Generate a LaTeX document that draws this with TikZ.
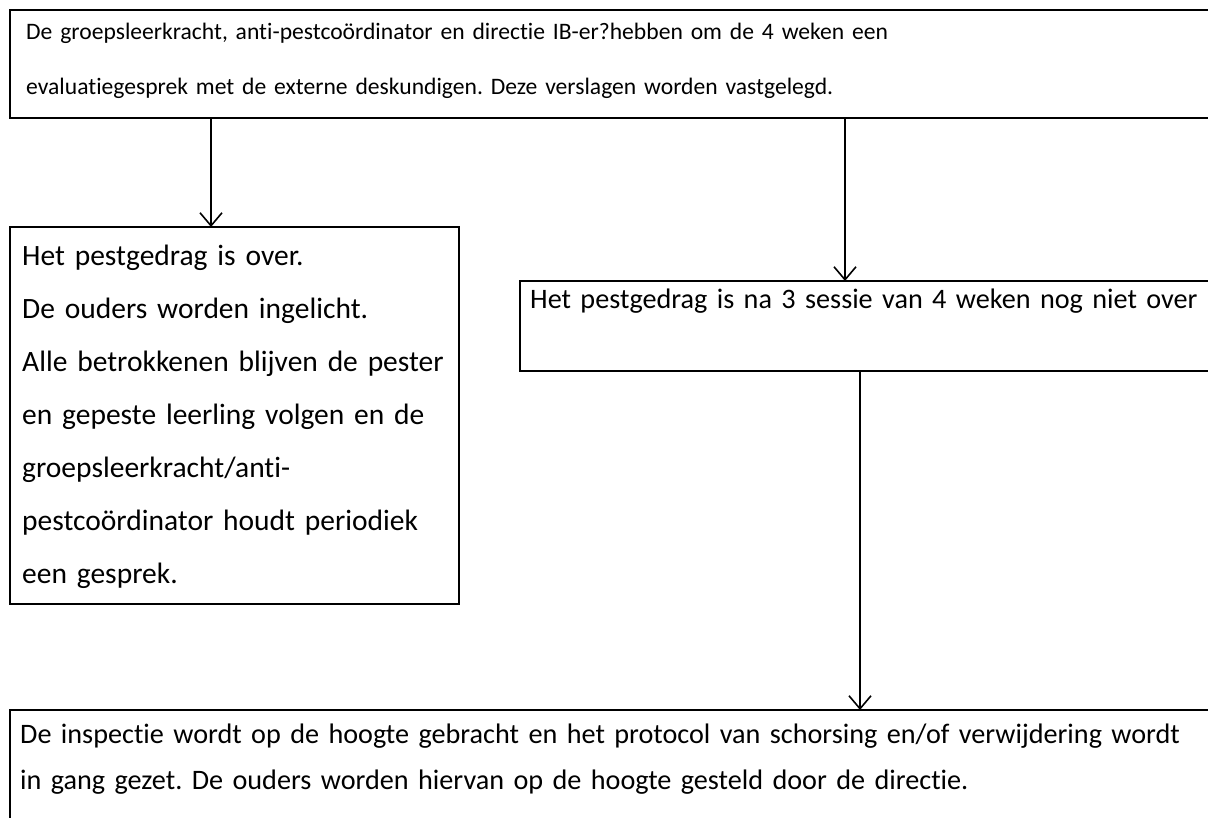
\documentclass[tikz,border=0pt]{standalone}
\usepackage{fontspec}
\setmainfont{Carlito}[Ligatures=NoCommon]
\usetikzlibrary{arrows.meta}
\frenchspacing

\begin{document}
\begin{tikzpicture}[x=1pt, y=-1pt,
	box/.style={draw, line width=1.6pt, anchor=north west, inner sep=0pt, outer sep=0pt},
	txt/.style={anchor=base west, inner sep=0pt, text width=1185pt, align=left},
	arr/.style={line width=1.6pt, -{Straight Barb[length=13pt, width=22pt]}}]
	\useasboundingbox (0,0) rectangle (1208,818);
	\fill[white] (0,0) rectangle (1208,818);
	% top: evaluation talk
	\node[box, minimum width=1240pt, minimum height=108pt] (top) at (10,10) {};
	\node[txt, font=\fontsize{23.6}{55}\selectfont] (topT) at (26,40)
		{De groepsleerkracht, anti-pestcoördinator en directie IB-er?hebben om de 4 weken een\\
		evaluatiegesprek met de externe deskundigen. Deze verslagen worden vastgelegd.};
	% left: it is over
	\node[box, minimum width=449pt, minimum height=377pt] (over) at (10,227) {};
	\node[txt, font=\fontsize{29.5}{53}\selectfont] (overT) at (22,266)
		{Het pestgedrag is over.\\
		De ouders worden ingelicht.\\
		Alle betrokkenen blijven de pester\\
		en gepeste leerling volgen en de\\
		groepsleerkracht/anti-\\
		pestcoördinator houdt periodiek\\
		een gesprek.};
	% right: not over yet
	\node[box, minimum width=720pt, minimum height=90pt] (notover) at (520,281) {};
	\node[txt, font=\fontsize{28.2}{45.9}\selectfont] (notoverT) at (530,309)
		{Het pestgedrag is na 3 sessie van 4 weken nog niet over};
	% bottom: inspection
	\node[box, minimum width=1240pt, minimum height=140pt] (insp) at (10,710) {};
	\node[txt, font=\fontsize{28.2}{46.5}\selectfont] (inspT) at (20,743)
		{De inspectie wordt op de hoogte gebracht en het protocol van schorsing en/of verwijdering wordt\\
		in gang gezet. De ouders worden hiervan op de hoogte gesteld door de directie.};
	% arrows
	\coordinate (a1) at (211,0);
	\coordinate (a2) at (845,0);
	\coordinate (a3) at (860,0);
	\draw[arr] (a1 |- top.south) -- (a1 |- over.north);
	\draw[arr] (a2 |- top.south) -- (a2 |- notover.north);
	\draw[arr] (a3 |- notover.south) -- (a3 |- insp.north);
\end{tikzpicture}
\end{document}
